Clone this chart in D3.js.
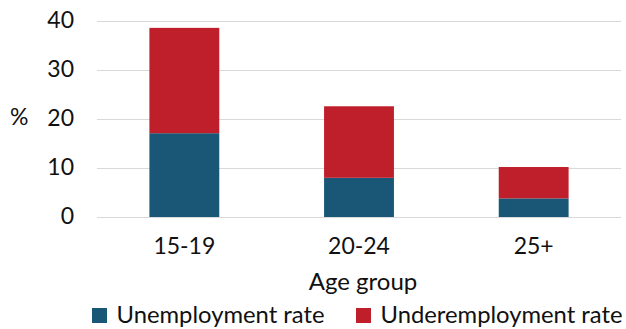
<!DOCTYPE html>
<html>
<head>
<meta charset="utf-8">
<script src="https://cdn.jsdelivr.net/npm/d3@7"></script>
<style>
  html, body { margin: 0; padding: 0; background: #fff; }
  svg { display: block; }
  text { font-family: Lato, "Noto Sans", sans-serif; fill: #111; }
</style>
</head>
<body>
<svg id="chart" width="626" height="329"></svg>
<script>
const categories = ["15-19", "20-24", "25+"];
const unemployment = [17.1, 8.0, 3.8];
const underemployment = [21.5, 14.6, 6.4];
const seriesNames = ["Unemployment rate", "Underemployment rate"];
const seriesColors = ["#1a5777", "#be1f2a"];
const yTicks = [0, 10, 20, 30, 40];
const yLabel = "%";
const xLabel = "Age group";

const W = 626, H = 329;
const margin = { top: 21, right: 5, bottom: 112, left: 97 };
const svg = d3.select("#chart");

const rows = categories.map((c, i) => ({ cat: c, u: unemployment[i], ue: underemployment[i] }));
const stack = d3.stack().keys(["u", "ue"])(rows);

const x = d3.scaleBand().domain(categories)
  .range([margin.left, W - margin.right]).paddingInner(0.6).paddingOuter(0.3);
const y = d3.scaleLinear().domain([0, 40]).range([H - margin.bottom, margin.top]);

// gridlines
svg.append("g").selectAll("line").data(yTicks).join("line")
  .attr("x1", margin.left).attr("x2", W - margin.right)
  .attr("y1", d => Math.round(y(d)) + 0.5).attr("y2", d => Math.round(y(d)) + 0.5)
  .attr("stroke", "#d9d9d9").attr("stroke-width", 1.2);

// y axis labels
const yAxis = d3.axisLeft(y).tickValues(yTicks).tickSize(0).tickPadding(23);
const gy = svg.append("g").attr("transform", `translate(${margin.left},0)`).call(yAxis);
gy.select(".domain").remove();
gy.selectAll("text").attr("font-size", 23).style("font-family", "Lato, 'Noto Sans', sans-serif").attr("fill", "#111").attr("dy", "0.28em");

svg.append("text").attr("x", 10).attr("y", y(20)).attr("dy", "0.28em")
  .attr("font-size", 23).text(yLabel);

// bars
svg.append("g").selectAll("g").data(stack).join("g")
  .attr("fill", (d, i) => seriesColors[i])
  .selectAll("rect").data(d => d).join("rect")
  .attr("x", d => x(d.data.cat))
  .attr("width", x.bandwidth())
  .attr("y", d => y(d[1]))
  .attr("height", d => y(d[0]) - y(d[1]));

// x axis labels
const xAxis = d3.axisBottom(x).tickSize(0).tickPadding(21);
const gx = svg.append("g").attr("transform", `translate(0,${y(0)})`).call(xAxis);
gx.select(".domain").remove();
gx.selectAll("text").attr("font-size", 23).style("font-family", "Lato, 'Noto Sans', sans-serif").attr("fill", "#111");

svg.append("text").attr("x", (margin.left + W - margin.right) / 2 + 4).attr("y", 290)
  .attr("text-anchor", "middle").attr("font-size", 24).text(xLabel);

// legend
const legendX = [92, 356];
const lg = svg.append("g").selectAll("g").data(seriesNames).join("g")
  .attr("transform", (d, i) => `translate(${legendX[i]},308)`);
lg.append("rect").attr("width", 15).attr("height", 15).attr("fill", (d, i) => seriesColors[i]);
lg.append("text").attr("x", 24.5).attr("y", 15).attr("font-size", 23.8).text(d => d);
</script>
</body>
</html>
